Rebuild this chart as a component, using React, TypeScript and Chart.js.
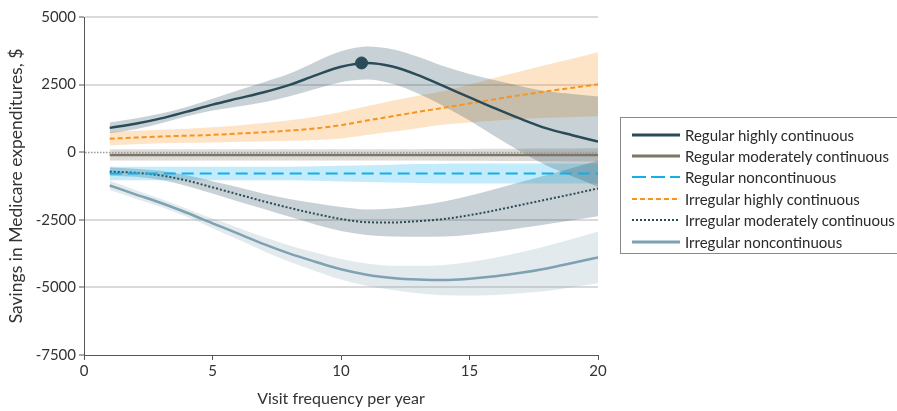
import React, { useEffect, useRef } from "react";
import { Chart, registerables } from "chart.js";

Chart.register(...registerables);

const FONT = "Lato, 'Open Sans', 'Noto Sans', sans-serif";

const visits = [1, 2, 3, 4, 5, 6, 7, 8, 9, 10, 11, 12, 13, 14, 15, 16, 17, 18, 19, 20];

const regHighValues = [900, 1050, 1250, 1500, 1760, 1990, 2220, 2490, 2840, 3160, 3300, 3170, 2850, 2440, 2030, 1620, 1230, 880, 630, 390];
const regHighHalf = [200, 200, 180, 170, 220, 300, 370, 420, 500, 570, 610, 640, 680, 740, 860, 1040, 1210, 1370, 1520, 1670];

const regModValues = [-100, -100, -100, -100, -100, -100, -100, -100, -100, -100, -100, -100, -100, -100, -100, -100, -100, -100, -100, -100];
const regModHalf = [210, 210, 210, 210, 210, 210, 210, 210, 210, 210, 210, 210, 210, 215, 220, 225, 230, 235, 240, 245];

const regNonValues = [-790, -790, -790, -790, -790, -790, -790, -790, -790, -790, -790, -790, -790, -790, -790, -790, -790, -790, -790, -790];
const regNonHalf = [250, 250, 250, 250, 250, 250, 250, 250, 270, 290, 310, 330, 350, 365, 370, 370, 370, 370, 370, 370];

const irrHighValues = [500, 540, 580, 610, 640, 690, 740, 800, 880, 1000, 1170, 1330, 1490, 1640, 1800, 1960, 2110, 2250, 2380, 2510];
const irrHighHalf = [250, 250, 250, 260, 280, 300, 340, 380, 430, 490, 530, 570, 600, 620, 700, 790, 880, 980, 1080, 1185];

const irrModValues = [-720, -760, -860, -1050, -1300, -1560, -1820, -2060, -2280, -2470, -2590, -2600, -2550, -2470, -2330, -2150, -1950, -1750, -1550, -1340];
const irrModHalf = [150, 150, 170, 200, 230, 260, 280, 330, 390, 440, 470, 520, 580, 650, 720, 790, 850, 910, 970, 1025];

const irrNonValues = [-1230, -1560, -1880, -2240, -2630, -3010, -3400, -3750, -4050, -4330, -4530, -4650, -4710, -4730, -4680, -4590, -4460, -4300, -4100, -3890];
const irrNonHalf = [170, 160, 150, 150, 180, 220, 260, 300, 340, 380, 410, 450, 510, 560, 620, 690, 760, 830, 890, 955];

const peakX = [10.8];
const peakY = [3300];

const xTicks = [0, 5, 10, 15, 20];
const yTicks = [-7500, -5000, -2500, 0, 2500, 5000];

type Series = {
  label: string;
  values: number[];
  half: number[];
  color: string;
  band: string;
  dash: number[];
  width: number;
};

const series: Series[] = [
  { label: "Regular highly continuous", values: regHighValues, half: regHighHalf, color: "#2b4b59", band: "rgba(42,77,92,0.26)", dash: [], width: 2.5 },
  { label: "Regular moderately continuous", values: regModValues, half: regModHalf, color: "#7d7566", band: "rgba(125,117,103,0.25)", dash: [], width: 2.5 },
  { label: "Regular noncontinuous", values: regNonValues, half: regNonHalf, color: "#15aee8", band: "rgba(0,174,239,0.24)", dash: [12, 6], width: 2 },
  { label: "Irregular highly continuous", values: irrHighValues, half: irrHighHalf, color: "#f7931e", band: "rgba(247,148,29,0.25)", dash: [5, 3], width: 2 },
  { label: "Irregular moderately continuous", values: irrModValues, half: irrModHalf, color: "#2b4b59", band: "rgba(42,77,92,0.26)", dash: [2, 2], width: 2 },
  { label: "Irregular noncontinuous", values: irrNonValues, half: irrNonHalf, color: "#7ea2b1", band: "rgba(126,160,178,0.22)", dash: [], width: 2.5 },
];

const pts = (vals: number[]) => visits.map((x, i) => ({ x, y: vals[i] }));

const zeroLinePlugin = {
  id: "zeroLine",
  afterDatasetsDraw(chart: any) {
    const { ctx, chartArea, scales } = chart;
    const y = Math.round(scales.y.getPixelForValue(0)) + 0.5;
    ctx.save();
    ctx.strokeStyle = "#9a9a9a";
    ctx.lineWidth = 1.5;
    ctx.setLineDash([1.5, 1.5]);
    ctx.beginPath();
    ctx.moveTo(chartArea.left + 1, y);
    ctx.lineTo(chartArea.right, y);
    ctx.stroke();
    ctx.restore();
  },
};

function LegendSample({ s }: { s: Series }) {
  const dash = s.dash.length ? (s.dash[0] > 8 ? "14 5" : s.dash.join(" ")) : undefined;
  return (
    <svg width={50} height={8} style={{ display: "block" }}>
      <line x1={1} y1={4} x2={49} y2={4} stroke={s.color} strokeWidth={s.dash.length ? 2 : 3} strokeDasharray={dash} />
    </svg>
  );
}

export default function App() {
  const ref = useRef<HTMLCanvasElement | null>(null);

  useEffect(() => {
    document.body.style.margin = "0";
    if (!ref.current) return;
    const datasets: any[] = [];
    series.forEach((s) => {
      datasets.push({
        label: s.label + " lower",
        data: pts(s.values.map((v, i) => v - s.half[i])),
        borderWidth: 0,
        pointRadius: 0,
        fill: false,
        cubicInterpolationMode: "monotone",
        order: 5,
      });
      datasets.push({
        label: s.label + " upper",
        data: pts(s.values.map((v, i) => v + s.half[i])),
        borderWidth: 0,
        pointRadius: 0,
        fill: "-1",
        backgroundColor: s.band,
        cubicInterpolationMode: "monotone",
        order: 5,
      });
    });
    series.forEach((s) => {
      datasets.push({
        label: s.label,
        data: pts(s.values),
        borderColor: s.color,
        borderWidth: s.width,
        borderDash: s.dash,
        pointRadius: 0,
        fill: false,
        cubicInterpolationMode: "monotone",
        order: 2,
      });
    });
    datasets.push({
      label: "peak",
      data: peakX.map((x, i) => ({ x, y: peakY[i] })),
      showLine: false,
      pointRadius: 6,
      pointBackgroundColor: "#2b4b59",
      pointBorderColor: "#2b4b59",
      order: 0,
    });

    const chart = new Chart(ref.current, {
      type: "line",
      data: { datasets },
      plugins: [zeroLinePlugin],
      options: {
        responsive: false,
        animation: false,
        devicePixelRatio: 1,
        layout: { padding: { top: 17, right: 299, left: 0, bottom: 0 } },
        plugins: { legend: { display: false }, tooltip: { enabled: false } },
        scales: {
          x: {
            type: "linear",
            min: 0,
            max: 20,
            afterBuildTicks: (axis: any) => {
              axis.ticks = xTicks.map((v) => ({ value: v }));
            },
            afterFit: (axis: any) => {
              axis.height = 56;
            },
            ticks: { color: "#333", font: { family: FONT, size: 15 }, padding: 2, callback: (v: any) => String(v) },
            grid: { drawOnChartArea: false, color: "#555", tickColor: "#555", tickLength: 5 },
            border: { color: "#555", width: 1 },
            title: {
              display: true,
              text: "Visit frequency per year",
              color: "#333",
              font: { family: FONT, size: 16 },
              padding: { top: 4, bottom: 3 },
            },
          },
          y: {
            type: "linear",
            min: -7500,
            max: 5000,
            afterBuildTicks: (axis: any) => {
              axis.ticks = yTicks.map((v) => ({ value: v }));
            },
            afterFit: (axis: any) => {
              axis.width = 84;
            },
            ticks: { color: "#333", font: { family: FONT, size: 15 }, padding: 3, callback: (v: any) => String(v) },
            grid: {
              color: (c: any) => {
                const v = c.tick ? c.tick.value : null;
                return v === 0 || v === -7500 ? "rgba(0,0,0,0)" : "#dadada";
              },
              lineWidth: 2,
              tickColor: "#555",
              tickLength: 5,
              tickWidth: 1,
            },
            border: { color: "#555", width: 1 },
            title: {
              display: true,
              text: "Savings in Medicare expenditures, $",
              color: "#333",
              font: { family: FONT, size: 17.5 },
              padding: { top: 6, bottom: 4 },
            },
          },
        },
      },
    } as any);
    return () => chart.destroy();
  }, []);

  return (
    <div style={{ position: "fixed", left: 0, top: 0, width: 897, height: 411, overflow: "hidden", background: "#fff" }}>
      <canvas ref={ref} width={897} height={411} style={{ width: 897, height: 411, display: "block" }} />
      <div
        style={{
          position: "absolute",
          left: 620,
          top: 117,
          width: 300,
          height: 137,
          border: "1px solid #8a8a8a",
          boxSizing: "border-box",
          fontFamily: FONT,
          fontSize: 15,
          color: "#2a2a2a",
          paddingTop: 6,
        }}
      >
        {series.map((s) => (
          <div key={s.label} style={{ display: "flex", alignItems: "center", height: 21.4 }}>
            <div style={{ marginLeft: 10, width: 50 }}>
              <LegendSample s={s} />
            </div>
            <span style={{ marginLeft: 4, whiteSpace: "nowrap" }}>{s.label}</span>
          </div>
        ))}
      </div>
    </div>
  );
}
